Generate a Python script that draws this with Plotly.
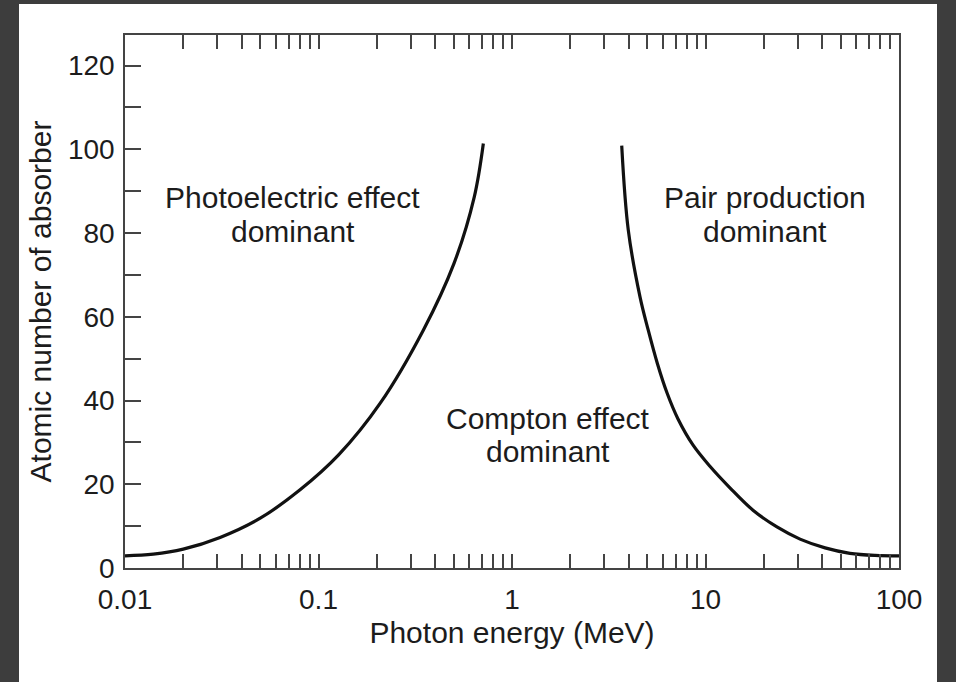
import math
import plotly.graph_objects as go

# Photoelectric / Compton boundary (left curve)
photo_energy = [0.01, 0.014, 0.02, 0.031, 0.05, 0.08, 0.127, 0.208, 0.348, 0.501, 0.638, 0.711]
photo_z = [2.9, 3.3, 4.5, 7.3, 11.9, 18.6, 27.0, 39.3, 56.8, 72.7, 88.6, 101.4]

# Compton / pair production boundary (right curve)
pair_energy = [3.69, 3.99, 4.59, 5.06, 5.64, 6.33, 7.21, 8.61, 10.54, 13.41, 17.6, 23.4,
               30.8, 41.5, 55.8, 75.2, 100.0]
pair_z = [100.9, 80.7, 64.7, 56.8, 48.85, 41.8, 35.6, 29.4, 24.3, 19.1, 13.8, 9.8,
          6.9, 4.8, 3.5, 3.0, 2.9]

# Tick labels
x_decades = [0.01, 0.1, 1, 10, 100]
x_decade_labels = ["0.01", "0.1", "1", "10", "100"]
y_major = [0, 20, 40, 60, 80, 100, 120]
y_minor = [10, 30, 50, 70, 90, 110]

# Region labels: (text lines, energy, Z for each line)
region_labels = [
    (["Photoelectric effect", "dominant"], 0.0738, [88.4, 80.3]),
    (["Pair production", "dominant"], 20.4, [88.4, 80.3]),
    (["Compton effect", "dominant"], 1.53, [35.8, 27.8]),
]

FONT = "Liberation Sans, Arial, Helvetica, sans-serif"
TXT = "#1c1c1c"
AX = "#444444"
BG = "#3d3d3d"

# build log ticks (all digits per decade)
xtickvals, xticktext = [], []
for i, d in enumerate(x_decades):
    xtickvals.append(d)
    xticktext.append(x_decade_labels[i])
    if i < len(x_decades) - 1:
        for m in range(2, 10):
            xtickvals.append(d * m)
            xticktext.append("")

fig = go.Figure()
for xs, ys in [(photo_energy, photo_z), (pair_energy, pair_z)]:
    fig.add_trace(go.Scatter(x=xs, y=ys, mode="lines",
                             line=dict(color="#111111", width=3.2, shape="spline", smoothing=1.0),
                             showlegend=False, hoverinfo="skip"))

for lines, e, zs in region_labels:
    for t, z in zip(lines, zs):
        fig.add_annotation(x=math.log10(e), y=z, text=t, showarrow=False,
                           xanchor="center", yanchor="middle",
                           font=dict(family=FONT, size=30, color=TXT))

L, T, W, H = 125, 35, 774, 533
fig.add_shape(type="rect", xref="paper", yref="paper",
              x0=(19 - L) / W, x1=(937 - L) / W,
              y0=-0.3, y1=(T + H - 4) / H,
              fillcolor="white", line=dict(width=0), layer="below")

fig.update_layout(
    width=956, height=682,
    margin=dict(l=L, r=956 - L - W, t=T, b=682 - T - H, autoexpand=False),
    paper_bgcolor=BG, plot_bgcolor="white",
    font=dict(family=FONT, color=TXT),
)
fig.update_xaxes(
    type="log", range=[-2, 2], automargin=False,
    tickmode="array", tickvals=xtickvals, ticktext=xticktext,
    ticks="inside", ticklen=14, tickwidth=1.5, tickcolor=AX,
    ticklabelstandoff=6,
    showline=True, linecolor=AX, linewidth=1.5, mirror="ticks",
    showgrid=False, zeroline=False,
    tickfont=dict(size=28, color=TXT, family=FONT),
    title=dict(text="Photon energy (MeV)", font=dict(size=30, color=TXT, family=FONT), standoff=8),
)
fig.update_yaxes(
    range=[0, 127.3], automargin=False,
    tickmode="array", tickvals=y_major,
    ticks="inside", ticklen=16, tickwidth=1.5, tickcolor=AX,
    ticklabelstandoff=3,
    minor=dict(tickmode="array", tickvals=y_minor, ticks="inside",
               ticklen=16, tickwidth=1.5, tickcolor=AX, showgrid=False),
    showline=True, linecolor=AX, linewidth=1.5, mirror=True,
    showgrid=False, zeroline=False,
    tickfont=dict(size=28, color=TXT, family=FONT),
    title=dict(text="Atomic number of absorber", font=dict(size=30, color=TXT, family=FONT), standoff=7),
)

fig.write_html("out.html", config={"displayModeBar": False},
               post_script="document.body.style.margin='0';document.body.style.background='%s';" % BG)
